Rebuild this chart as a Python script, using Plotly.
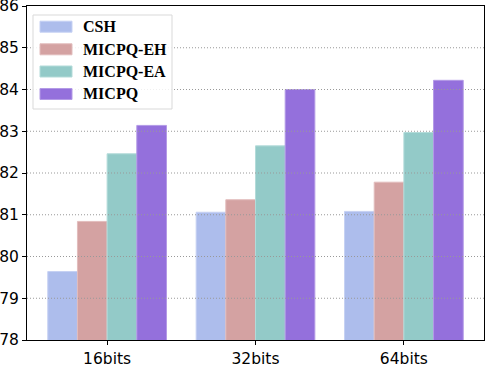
import plotly.graph_objects as go

# data
bit_lengths = ['16bits', '32bits', '64bits']
methods = ['CSH', 'MICPQ-EH', 'MICPQ-EA', 'MICPQ']
csh = [79.64, 81.06, 81.08]
micpq_eh = [80.84, 81.36, 81.78]
micpq_ea = [82.46, 82.65, 82.97]
micpq = [83.14, 84.00, 84.22]
y_ticks = [78, 79, 80, 81, 82, 83, 84, 85, 86]

series = [csh, micpq_eh, micpq_ea, micpq]
colors = ['#adbdec', '#d4a2a2', '#93cac8', '#9470dc']
edges = ['#c6d1f3', '#e2bdbd', '#b3dbd9', '#b39ae6']

# plot area in pixels (498x392 window)
L, R, T, B = 27, 14, 6, 52
W, H = 498, 392
PW, PH = W - L - R, H - T - B


def px_x(px):
    return (px - L) / PW


def px_y(py):
    return (H - B - py) / PH


fig = go.Figure()
for name, vals, c, e in zip(methods, series, colors, edges):
    fig.add_trace(go.Bar(
        x=bit_lengths, y=vals, name=name, showlegend=False,
        marker=dict(color=c, line=dict(color=e, width=1)),
    ))

shapes = []
# dotted grid drawn over the bars
for t in y_ticks[1:-1]:
    shapes.append(dict(type='line', xref='paper', x0=0, x1=1, yref='y', y0=t, y1=t,
                       line=dict(color='#999999', width=1, dash='1px,2px'), layer='above'))

# legend box
shapes.append(dict(type='rect', xref='paper', yref='paper',
                   x0=px_x(33), x1=px_x(172), y0=px_y(109), y1=px_y(15),
                   line=dict(color='#d9d9d9', width=1), fillcolor='rgba(255,255,255,0.85)',
                   layer='above'))
annotations = []
centers = [26.7, 49.3, 71.5, 94]
for name, c, e, cy in zip(methods, colors, edges, centers):
    shapes.append(dict(type='rect', xref='paper', yref='paper',
                       x0=px_x(40), x1=px_x(72), y0=px_y(cy + 5.5), y1=px_y(cy - 5.5),
                       fillcolor=c, line=dict(color=e, width=1), layer='above'))
    annotations.append(dict(xref='paper', yref='paper', x=px_x(81), y=px_y(cy),
                            text='<b>%s</b>' % name, showarrow=False,
                            xanchor='left', yanchor='middle',
                            font=dict(family='Liberation Serif, Times New Roman, serif',
                                      size=16, color='black')))

fig.update_layout(
    width=W, height=H,
    margin=dict(l=L, r=R, t=T, b=B),
    barmode='group', bargap=0.2, bargroupgap=0,
    plot_bgcolor='white', paper_bgcolor='white',
    font=dict(family='DejaVu Sans, sans-serif', size=15.5, color='black'),
    shapes=shapes, annotations=annotations,
    xaxis=dict(range=[-0.54, 2.54], showgrid=False, showline=True, mirror=True,
               linecolor='black', linewidth=1, ticks='outside', ticklen=4,
               tickcolor='black', automargin=False),
    yaxis=dict(range=[78, 86], tickvals=y_ticks, showgrid=False, zeroline=False,
               showline=True, mirror=True, linecolor='black', linewidth=1,
               ticks='outside', ticklen=4, tickcolor='black', automargin=False,
               ticklabeloverflow='allow'),
)

# page body has an 8px default margin; drop it so the chart fills the window
fig.write_html("out.html", config={'displayModeBar': False},
               post_script="document.body.style.margin='0';")
